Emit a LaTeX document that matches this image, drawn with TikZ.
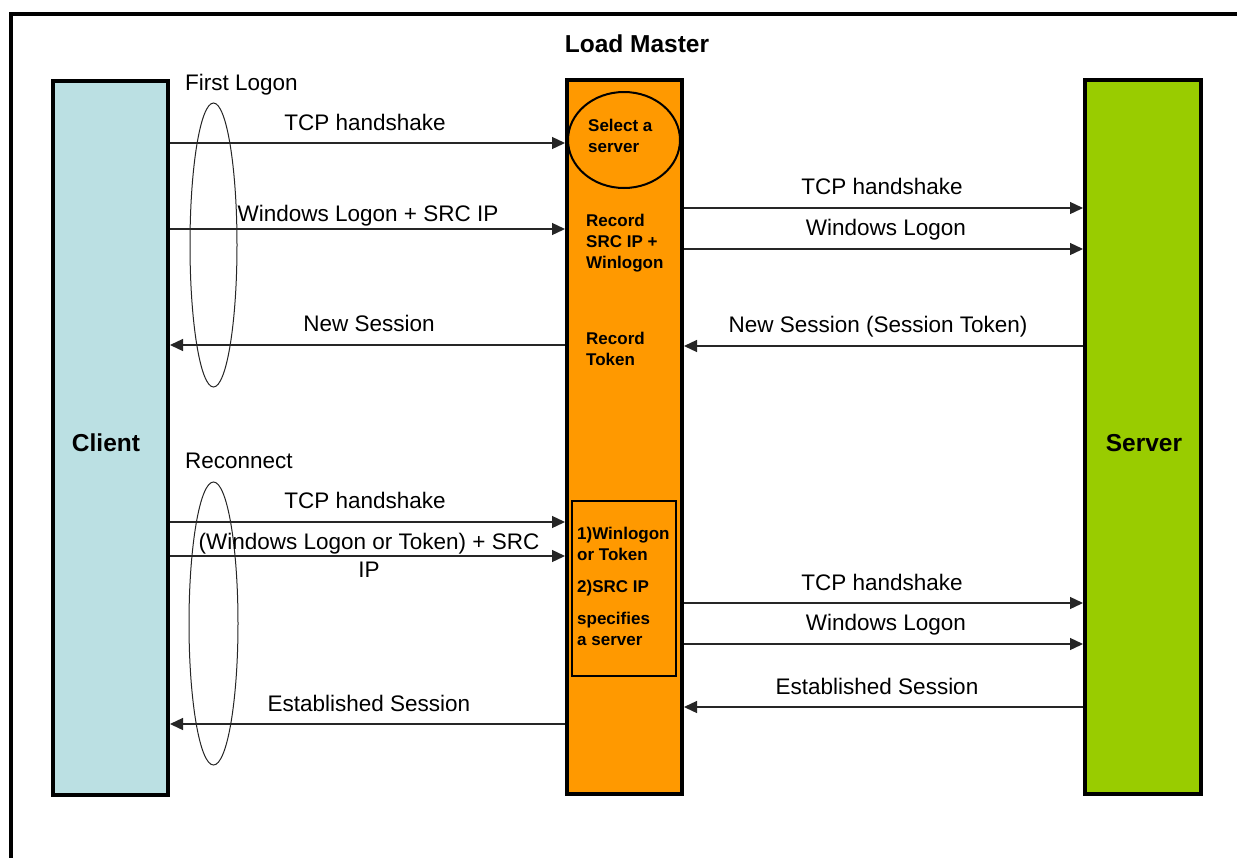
\documentclass[tikz,border=0pt]{standalone}
\usepackage{fontspec}
\setmainfont{Liberation Sans}
\usetikzlibrary{arrows.meta}
\definecolor{clientblue}{HTML}{BBE0E3}
\definecolor{lmorange}{HTML}{FF9900}
\definecolor{servergreen}{HTML}{99CC00}
\begin{document}
\begin{tikzpicture}[x=1pt,y=-1pt,
  box/.style={draw=black, line width=4pt, minimum width=115pt, minimum height=714pt, inner sep=0pt},
  msg/.style={line width=1.3pt, draw=black!85, -{Triangle[length=13pt,width=12pt]}},
  lbl/.style={font=\fontsize{22.5}{28}\selectfont, inner sep=0pt},
  big/.style={font=\fontsize{24.5}{28}\selectfont\bfseries, inner sep=0pt},
  note/.style={font=\fontsize{17}{21}\selectfont\bfseries, inner sep=0pt, align=left, anchor=west},
  loopmark/.style={draw=black!85, line width=1pt}
]
\path[use as bounding box, clip] (0,0) rectangle (1237,857);
\fill[white] (0,0) rectangle (1237,857);
% outer frame (cut off at right and bottom)
\draw[line width=4pt] (10.5,900) -- (10.5,13.5) -- (1300,13.5);

% main columns
\node[box, fill=clientblue] (client) at (110.5,437.5) {};
\node[box, fill=lmorange] (lm) at (624.5,437) {};
\node[box, fill=servergreen, minimum width=116pt] (server) at (1143,437) {};

% titles
\node[big] (lmtitle) at (637,44) {Load Master};
\node[big] (clienttitle) at (106,443) {Client};
\node[big] (servertitle) at (1144,443) {Server};
\node[lbl, anchor=west] (first) at (185,85) {First Logon};
\node[lbl, anchor=west] (recon) at (185,461) {Reconnect};

% load master internals
\draw[line width=2pt] (624,140) ellipse [x radius=56, y radius=48];
\node[note] (sel) at (588,136) {Select a\\server};
\node[note] (rec1) at (586,243) {Record\\SRC IP +\\Winlogon};
\node[note] (rec2) at (586,349) {Record\\Token};
\node[draw=black, line width=2.5pt, minimum width=104pt, minimum height=175pt, inner sep=0pt] (inner) at (624,588.5) {};
\node[note] (spec) at (577,586) {1)Winlogon\\or Token\\[11pt]2)SRC IP\\[11pt]specifies\\a server};

% loops
\draw[loopmark] (213.5,245) ellipse [x radius=23.5, y radius=142];
\draw[loopmark] (213.5,623.5) ellipse [x radius=24.5, y radius=141.5];

% first logon messages
\draw[msg] (client.east |- 0,143) -- (lm.west |- 0,143);
\node[lbl] (l1) at (365,122) {TCP handshake};
\draw[msg] (client.east |- 0,229) -- (lm.west |- 0,229);
\node[lbl] (l2) at (368,216) {Windows Logon + SRC IP};
\draw[msg] (lm.west |- 0,345) -- (client.east |- 0,345);
\node[lbl] (l3) at (369,323) {New Session};

\draw[msg] (lm.east |- 0,208) -- (server.west |- 0,208);
\node[lbl] (r1) at (882,186) {TCP handshake};
\draw[msg] (lm.east |- 0,249) -- (server.west |- 0,249);
\node[lbl] (r2) at (886,230) {Windows Logon};
\draw[msg] (server.west |- 0,346) -- (lm.east |- 0,346);
\node[lbl] (r3) at (878,327) {New Session (Session Token)};

% reconnect messages
\draw[msg] (client.east |- 0,522) -- (lm.west |- 0,522);
\node[lbl] (l4) at (365,500) {TCP handshake};
\draw[msg] (client.east |- 0,556) -- (lm.west |- 0,556);
\node[lbl, align=center] (l5) at (369,555) {(Windows Logon or Token) + SRC\\IP};
\draw[msg] (lm.west |- 0,724) -- (client.east |- 0,724);
\node[lbl] (l6) at (369,703) {Established Session};

\draw[msg] (lm.east |- 0,603) -- (server.west |- 0,603);
\node[lbl] (r4) at (882,582) {TCP handshake};
\draw[msg] (lm.east |- 0,644) -- (server.west |- 0,644);
\node[lbl] (r5) at (886,625) {Windows Logon};
\draw[msg] (server.west |- 0,707) -- (lm.east |- 0,707);
\node[lbl] (r6) at (877,686) {Established Session};
\end{tikzpicture}
\end{document}
